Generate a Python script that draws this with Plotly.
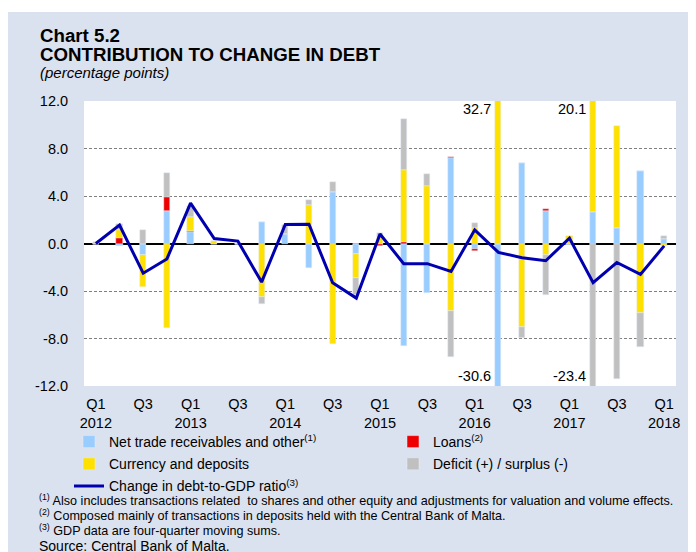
import plotly.graph_objects as go

quarters = ["Q1 2012", "Q2 2012", "Q3 2012", "Q4 2012",
            "Q1 2013", "Q2 2013", "Q3 2013", "Q4 2013",
            "Q1 2014", "Q2 2014", "Q3 2014", "Q4 2014",
            "Q1 2015", "Q2 2015", "Q3 2015", "Q4 2015",
            "Q1 2016", "Q2 2016", "Q3 2016", "Q4 2016",
            "Q1 2017", "Q2 2017", "Q3 2017", "Q4 2017",
            "Q1 2018"]

net_trade = [0.0, -0.25, -0.95, 2.7, 0.95, 0.0, 0.0, 1.85, 0.8, -2.05, 4.3, -0.87,
             0.0, -8.65, -4.15, 7.2, -0.5, -30.6, 6.8, 2.7, 0.0, 2.65, 1.3, 6.1, 0.42]
loans = [0.0, 0.45, 0.0, 1.2, 0.1, 0.0, 0.0, 0.0, 0.0, 0.0, 0.05, 0.0,
         -0.2, 0.15, 0.0, 0.1, -0.1, 0.0, 0.0, 0.2, 0.0, 0.0, 0.0, 0.0, 0.0]
currency = [0.0, 0.7, -2.75, -7.1, 1.15, 0.25, 0.0, -4.5, 0.0, 3.25, -8.45, -2.05,
            0.45, 6.05, 4.85, -5.65, 1.3, 32.7, -7.0, -0.95, 0.6, 17.45, 8.6, -5.85, -0.25]
deficit = [0.15, 0.5, 1.15, 2.0, 1.0, 0.0, 0.0, -0.6, 0.75, 0.4, 0.85, -1.4,
           0.42, 4.25, 1.0, -3.9, 0.4, 0.0, -0.95, -3.35, -0.1, -23.4, -11.45, -2.85, 0.22]
debt_ratio_change = [0.0, 1.55, -2.5, -1.3, 3.4, 0.42, 0.2, -3.25, 1.6, 1.62, -3.3, -4.6,
                     0.8, -1.7, -1.7, -2.35, 1.15, -0.75, -1.2, -1.45, 0.45, -3.3, -1.6, -2.6, -0.2]

x_tick_vals = ["Q1 2012", "Q3 2012", "Q1 2013", "Q3 2013", "Q1 2014", "Q3 2014",
               "Q1 2015", "Q3 2015", "Q1 2016", "Q3 2016", "Q1 2017", "Q3 2017", "Q1 2018"]
x_tick_text = ["Q1<br>2012", "Q3", "Q1<br>2013", "Q3", "Q1<br>2014", "Q3",
               "Q1<br>2015", "Q3", "Q1<br>2016", "Q3", "Q1<br>2017", "Q3", "Q1<br>2018"]
y_tick_vals = [-12, -8, -4, 0, 4, 8, 12]
y_tick_text = ["-12.0", "-8.0", "-4.0", "0.0", "4.0", "8.0", "12.0"]

# off-scale labels: (quarter, value, label)
offscale = [("Q2 2016", 11.3, "32.7"), ("Q2 2016", -11.15, "-30.6"),
            ("Q2 2017", 11.3, "20.1"), ("Q2 2017", -11.15, "-23.4")]

# figure geometry (figure coordinates; page = figure + 8 px body margin)
OFF = 8
W, H = 696, 552
L, R, T, B = 76, 668, 93, 378
def px(page_x):
    return (page_x - OFF - L) / (R - L)
def py(page_y):
    return (B - (page_y - OFF)) / (B - T)

FONT = "Liberation Sans, Arial, sans-serif"
BG = "#dbe2ef"

fig = go.Figure()
bw = 0.26
fig.add_bar(x=quarters, y=net_trade, name="Net trade receivables and other<sup>(1)</sup>",
            marker_color="#99ccff", width=bw, legend="legend", legendgroup="a")
fig.add_bar(x=quarters, y=loans, name="Loans<sup>(2)</sup>",
            marker_color="#ee0000", width=bw, legend="legend2", legendgroup="b")
fig.add_bar(x=quarters, y=currency, name="Currency and deposits",
            marker_color="#ffe100", width=bw, legend="legend", legendgroup="c")
fig.add_bar(x=quarters, y=deficit, name="Deficit (+) / surplus (-)",
            marker_color="#c0c0c0", width=bw, legend="legend2", legendgroup="d")
fig.add_scatter(x=quarters, y=debt_ratio_change, mode="lines",
                name="Change in debt-to-GDP ratio<sup>(3)</sup>",
                line=dict(color="#0000b0", width=3), legend="legend", legendgroup="e")

annotations = []
for q, v, t in offscale:
    annotations.append(dict(x=q, y=v, xref="x", yref="y", text=t, showarrow=False,
                            xanchor="right", yanchor="middle", xshift=-5,
                            font=dict(size=14.5, color="black", family=FONT)))

def txt(x, y, text, size, **kw):
    annotations.append(dict(x=px(x), y=py(y), xref="paper", yref="paper", text=text,
                            showarrow=False, xanchor="left", yanchor="middle",
                            font=dict(size=size, color="black", family=FONT), **kw))

txt(38, 35.5, "<b>Chart 5.2</b>", 18.7)
txt(38, 55, "<b>CONTRIBUTION TO CHANGE IN DEBT</b>", 18.7)
txt(38, 73, "<i>(percentage points)</i>", 15)
txt(37, 500, "<sup>(1)</sup> Also includes transactions related  to shares and other equity and adjustments for valuation and volume effects.", 12.6)
txt(37, 515, "<sup>(2)</sup> Composed mainly of transactions in deposits held with the Central Bank of Malta.", 12.6)
txt(37, 530, "<sup>(3)</sup> GDP data are four-quarter moving sums.", 12.6)
txt(37, 546, "Source: Central Bank of Malta.", 14)

shapes = [
    dict(type="rect", xref="paper", yref="paper", x0=px(0), x1=px(720), y0=py(0), y1=py(12),
         fillcolor="white", line_width=0, layer="above"),
]

fig.update_layout(
    width=W, height=H,
    margin=dict(l=L, r=W - R, t=T, b=H - B, pad=0),
    paper_bgcolor=BG, plot_bgcolor="white",
    barmode="relative", bargap=0,
    font=dict(family=FONT, size=14.5, color="black"),
    showlegend=True,
    legend=dict(x=px(69), y=py(426), xanchor="left", yanchor="top", orientation="v",
                bgcolor="rgba(0,0,0,0)", font=dict(size=14, family=FONT, color="black"),
                tracegroupgap=1, itemwidth=30, traceorder="grouped"),
    legend2=dict(x=px(393), y=py(426), xanchor="left", yanchor="top", orientation="v",
                 bgcolor="rgba(0,0,0,0)", font=dict(size=14, family=FONT, color="black"),
                 tracegroupgap=1, itemwidth=30, traceorder="grouped"),
    annotations=annotations,
    shapes=shapes,
    xaxis=dict(type="category", categoryorder="array", categoryarray=quarters,
               range=[-0.5, len(quarters) - 0.5],
               tickmode="array", tickvals=x_tick_vals, ticktext=x_tick_text,
               showgrid=False, showline=False, zeroline=False,
               ticks="outside", ticklen=5, tickcolor="rgba(0,0,0,0)",
               tickfont=dict(size=14.5, family=FONT, color="black")),
    yaxis=dict(range=[-12, 12], tickmode="array", tickvals=y_tick_vals, ticktext=y_tick_text,
               showgrid=True, gridcolor="#7f7f7f", gridwidth=1, griddash="3px,2px",
               zeroline=True, zerolinecolor="black", zerolinewidth=2,
               showline=False, ticks="outside", ticklen=12, tickcolor="rgba(0,0,0,0)",
               tickfont=dict(size=14.5, family=FONT, color="black")),
)

fig.write_html("out.html")
